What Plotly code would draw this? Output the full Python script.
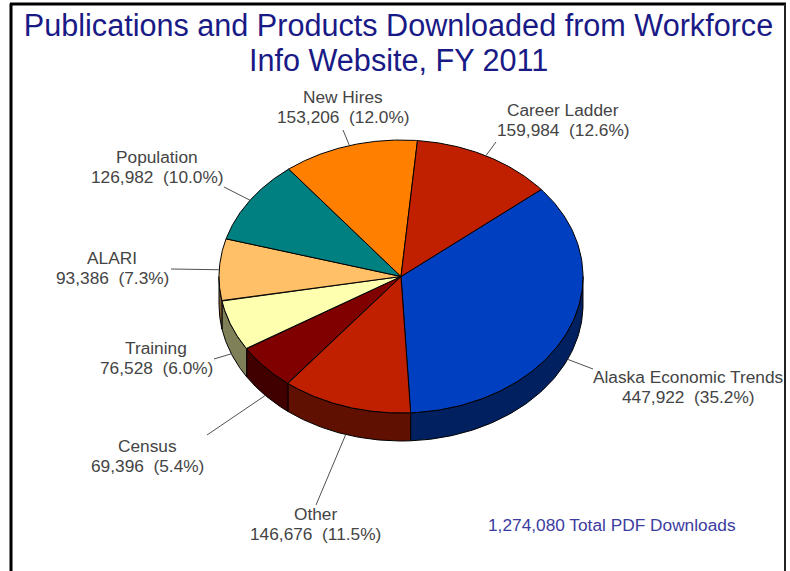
import numpy as np
import plotly.graph_objects as go

# ---- data (clockwise from the first slice) ----
categories = ["Alaska Economic Trends", "Other", "Census", "Training", "ALARI",
              "Population", "New Hires", "Career Ladder"]
values = [447922, 146676, 69396, 76528, 93386, 126982, 153206, 159984]
percent_labels = ["35.2%", "11.5%", "5.4%", "6.0%", "7.3%", "10.0%", "12.0%", "12.6%"]
title_lines = ["Publications and Products Downloaded from Workforce", "Info Website, FY 2011"]
total_text = "1,274,080 Total PDF Downloads"

# ---- style ----
top_colors = ["#0040C0", "#C02000", "#800000", "#FFFFB0", "#FFC068", "#008080", "#FF8000", "#C02000"]
side_colors = ["#002060", "#601000", "#400000", "#808058", "#806034", "#004040", "#804000", "#601000"]
FONT = "Liberation Sans, Arial, sans-serif"
CX, CY, RX, RY, DEPTH, START = 401, 276.5, 182, 136.5, 28, 50.4
label_pos = [(688, 387), (315, 524), (147.5, 456), (156, 358), (112, 268), (157, 167), (343, 107), (563, 120)]
leader_end = [(593, 369), (316, 505), (207, 435), (214, 359), (171, 269), (224, 187), (343, 130), (496, 142)]
LINE_GAP = 10.2


def rim(deg, dy=0.0):
    t = np.radians(deg)
    return CX + RX * np.sin(t), CY - RY * np.cos(t) + dy


total = sum(values)
spans = [v / total * 360 for v in values]
starts = [START + sum(spans[:i]) for i in range(len(values))]

fig = go.Figure()


def polygon(xs, ys, color, name):
    fig.add_trace(go.Scatter(x=xs, y=ys, mode="lines", fill="toself", fillcolor=color,
                             line=dict(color="#000000", width=1), name=name,
                             hoverinfo="name", showlegend=False))


# side walls: only the front half (90..270 deg clockwise from the top) shows
for name, a0, span, col in zip(categories, starts, spans, side_colors):
    for shift in (0, -360):
        lo, hi = max(a0 + shift, 90), min(a0 + span + shift, 270)
        if hi > lo:
            a = np.linspace(lo, hi, 90)
            x1, y1 = rim(a)
            x2, y2 = rim(a[::-1], DEPTH)
            polygon(np.r_[x1, x2, x1[0]], np.r_[y1, y2, y1[0]], col, name)

# top faces
for name, a0, span, col in zip(categories, starts, spans, top_colors):
    a = np.linspace(a0, a0 + span, 120)
    x, y = rim(a)
    polygon(np.r_[CX, x, CX], np.r_[CY, y, CY], col, name)


def text_note(x, y, text, size=17.3, color="#444444"):
    return dict(x=x, y=y, xref="x", yref="y", showarrow=False, text=text, align="center",
                font=dict(family=FONT, size=size, color=color))


# leader lines and labels
annotations = []
for name, v, pct, a0, span, end, lab in zip(categories, values, percent_labels, starts, spans,
                                            leader_end, label_pos):
    mid = a0 + span / 2
    dy = DEPTH if np.cos(np.radians(mid)) < 0 else 0
    sx, sy = rim(mid, dy)
    fig.add_trace(go.Scatter(x=[sx, end[0]], y=[sy, end[1]], mode="lines",
                             line=dict(color="#505050", width=1), hoverinfo="skip", showlegend=False))
    annotations.append(text_note(lab[0], lab[1] - LINE_GAP, name))
    annotations.append(text_note(lab[0], lab[1] + LINE_GAP, f"{v:,}  ({pct})"))
annotations.append(text_note(612, 525, total_text, color="#3C3CA0"))
annotations.append(text_note(398.5, 60, title_lines[1], size=30.6, color="#1A1A86"))

frame = [
    dict(type="line", xref="x", yref="y", x0=11, y0=3.5, x1=11, y1=571, line=dict(color="#000000", width=3)),
    dict(type="line", xref="x", yref="y", x0=10, y0=4, x1=786, y1=4, line=dict(color="#000000", width=3)),
    dict(type="line", xref="x", yref="y", x0=785, y0=4, x1=785, y1=571, line=dict(color="#222222", width=2)),
]

fig.update_layout(
    width=790, height=571, margin=dict(l=0, r=0, t=0, b=0),
    paper_bgcolor="#FFFFFF", plot_bgcolor="#FFFFFF", showlegend=False,
    title=dict(text=title_lines[0], x=398.5 / 790, xanchor="center", y=1 - 25 / 571, yanchor="middle",
               font=dict(family=FONT, size=30.6, color="#1A1A86")),
    xaxis=dict(range=[0, 790], visible=False, fixedrange=True),
    yaxis=dict(range=[571, 0], visible=False, fixedrange=True),
    annotations=annotations, shapes=frame,
)
fig.write_html("out.html", config={"displayModeBar": False},
               post_script="document.body.style.margin='0';document.documentElement.style.overflow='hidden';")
